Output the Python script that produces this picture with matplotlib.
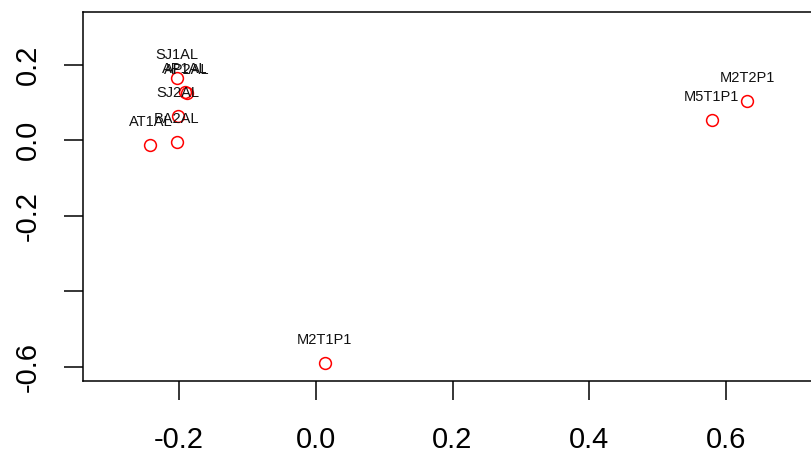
import matplotlib.pyplot as plt

plt.rcParams['font.family'] = ['Liberation Sans', 'DejaVu Sans']

labels = ['SJ1AL', 'AP1AL', 'AP2AL', 'SJ2AL', 'BA2AL', 'AT1AL',
          'M2T1P1', 'M5T1P1', 'M2T2P1']
dim1 = [-0.203, -0.191, -0.188, -0.201, -0.203, -0.242, 0.013, 0.579, 0.631]
dim2 = [0.165, 0.128, 0.125, 0.064, -0.005, -0.013, -0.589, 0.053, 0.104]

xticks = [-0.2, 0.0, 0.2, 0.4, 0.6]
yticks = [-0.6, -0.4, -0.2, 0.0, 0.2]
ytick_labels = ['-0.6', '', '-0.2', '0.0', '0.2']

fig = plt.figure(figsize=(8.12, 4.55), dpi=100)
# plot region runs past the right edge of the image
ax = fig.add_axes([83 / 812, 74.3 / 455, 745.6 / 812, 368.4 / 455])

ax.plot(dim1, dim2, 'o', mfc='none', mec='red', ms=8.5, mew=1.1)
for name, x, y in zip(labels, dim1, dim2):
    ax.annotate(name, (x, y), xytext=(0, 16.5), textcoords='offset points',
                ha='center', va='center', fontsize=10.5, color='#111111')

ax.set_xlim(-0.3404, 0.75)
ax.set_ylim(-0.636, 0.3384)
ax.set_xticks(xticks)
ax.set_xticklabels(['-0.2', '0.0', '0.2', '0.4', '0.6'])
ax.set_yticks(yticks)
ax.set_yticklabels(ytick_labels, rotation=90, va='center')

ax.tick_params(direction='out', length=13.7, width=1.1, labelsize=21)
ax.tick_params(axis='x', pad=19)
ax.tick_params(axis='y', pad=16)
for s in ax.spines.values():
    s.set_linewidth(1.1)

fig.savefig('out.png', dpi=100)
